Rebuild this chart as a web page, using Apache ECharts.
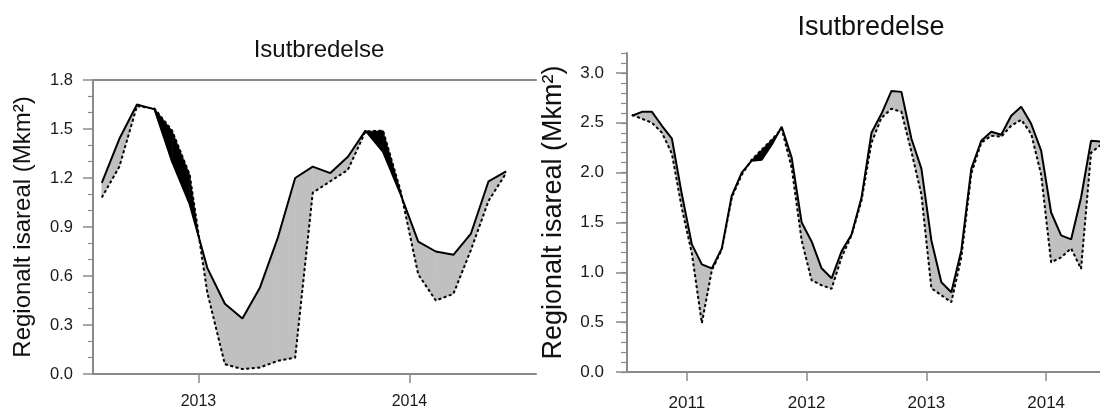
<!DOCTYPE html>
<html>
<head>
<meta charset="utf-8">
<script src="https://cdn.jsdelivr.net/npm/echarts@6/dist/echarts.min.js"></script>
<style>
  html, body { margin: 0; padding: 0; background: #fff; }
  #chart { width: 1100px; height: 409px; }
</style>
</head>
<body>
<div id="chart"></div>
<script>
// monthly means, first month of each panel
var leftStart = [2012, 7];
var rightStart = [2010, 7];

// left panel (Jul 2012 - Jun 2014)
var leftSolid = [1.17, 1.44, 1.65, 1.62, 1.30, 1.04, 0.65, 0.43, 0.34, 0.53, 0.83, 1.20,
                 1.27, 1.23, 1.33, 1.49, 1.36, 1.10, 0.81, 0.75, 0.73, 0.86, 1.18, 1.24];
var leftDotted = [1.08, 1.27, 1.64, 1.625, 1.49, 1.22, 0.50, 0.06, 0.03, 0.04, 0.08, 0.10,
                  1.11, 1.18, 1.25, 1.485, 1.49, 1.12, 0.61, 0.45, 0.49, 0.76, 1.06, 1.23];

// right panel (Jul 2010 - Jun 2014)
var rightSolid = [2.57, 2.61, 2.61, 2.47, 2.34, 1.78, 1.28, 1.08, 1.04, 1.24, 1.77, 2.00,
                  2.12, 2.13, 2.28, 2.46, 2.15, 1.50, 1.31, 1.04, 0.94, 1.21, 1.38, 1.75,
                  2.40, 2.59, 2.82, 2.81, 2.34, 2.04, 1.32, 0.90, 0.80, 1.22, 2.04, 2.32,
                  2.41, 2.38, 2.57, 2.66, 2.49, 2.22, 1.60, 1.37, 1.33, 1.75, 2.32, 2.31];
var rightDotted = [2.58, 2.54, 2.50, 2.40, 2.19, 1.64, 1.19, 0.49, 1.02, 1.23, 1.75, 1.98,
                   2.13, 2.23, 2.33, 2.44, 2.05, 1.32, 0.92, 0.87, 0.835, 1.15, 1.37, 1.72,
                   2.30, 2.55, 2.64, 2.61, 2.21, 1.78, 0.84, 0.77, 0.70, 1.15, 1.99, 2.30,
                   2.37, 2.36, 2.47, 2.53, 2.39, 1.98, 1.10, 1.15, 1.24, 1.035, 2.20, 2.28];

var leftYTicks = [0, 0.3, 0.6, 0.9, 1.2, 1.5, 1.8];
var rightYTicks = [0, 0.5, 1.0, 1.5, 2.0, 2.5, 3.0];
var leftYears = [2013, 2014];
var rightYears = [2011, 2012, 2013, 2014];

var title = "Isutbredelse";
var yName = "Regionalt isareal (Mkm²)";

var FONT = "'Liberation Sans', Arial, Helvetica, sans-serif";
var AXIS = "#8a8a8a";
var GRAY = "#c0c0c0";

function monthX(start, i) {
  return start[0] + (start[1] - 1 + i + 0.5) / 12;
}
function linePts(start, vals) {
  return vals.map(function (v, i) { return [monthX(start, i), v]; });
}
function bandData(start, s, d) {
  var out = [];
  for (var i = 0; i < s.length - 1; i++) {
    out.push([monthX(start, i), s[i], d[i], monthX(start, i + 1), s[i + 1], d[i + 1]]);
  }
  return out;
}

// fill between the two curves: grey where solid is higher, black where dotted is higher
function renderBand(params, api) {
  var x0 = api.value(0), s0 = api.value(1), d0 = api.value(2);
  var x1 = api.value(3), s1 = api.value(4), d1 = api.value(5);
  var S0 = api.coord([x0, s0]), D0 = api.coord([x0, d0]);
  var S1 = api.coord([x1, s1]), D1 = api.coord([x1, d1]);
  var g0 = s0 - d0, g1 = s1 - d1;
  function poly(pts, pos) {
    var c = pos ? GRAY : "#000";
    return { type: "polygon", shape: { points: pts }, style: { fill: c, stroke: c, lineWidth: 0.6 } };
  }
  var children = [];
  if ((g0 >= 0) === (g1 >= 0)) {
    children.push(poly([S0, S1, D1, D0], g0 + g1 >= 0));
  } else {
    var t = g0 / (g0 - g1);
    var C = [S0[0] + t * (S1[0] - S0[0]), S0[1] + t * (S1[1] - S0[1])];
    children.push(poly([S0, C, D0], g0 > 0));
    children.push(poly([C, S1, D1], g1 > 0));
  }
  return { type: "group", children: children };
}

function bottomAxis(gi, min, max, years, fs, tickLen, margin) {
  return {
    type: "value", gridIndex: gi, position: "bottom", min: min, max: max,
    axisLine: { show: true, lineStyle: { color: AXIS, width: 2 } },
    axisTick: { show: true, customValues: years, length: tickLen, lineStyle: { color: AXIS, width: 1.5 } },
    axisLabel: { show: true, customValues: years, margin: margin, color: "#1a1a1a", fontSize: fs, fontFamily: FONT,
                 formatter: function (v) { return String(Math.round(v)); } },
    splitLine: { show: false }
  };
}
function topAxis(gi, min, max) {
  return {
    type: "value", gridIndex: gi, position: "top", min: min, max: max,
    axisLine: { show: true, lineStyle: { color: AXIS, width: 2 } },
    axisTick: { show: false }, axisLabel: { show: false }, splitLine: { show: false }
  };
}

var option = {
  backgroundColor: "#fff",
  animation: false,
  title: [
    { text: title, left: 314, top: 33, textAlign: "center",
      textStyle: { fontFamily: FONT, fontSize: 24, fontWeight: "normal", color: "#111" } },
    { text: title, left: 866, top: 9, textAlign: "center",
      textStyle: { fontFamily: FONT, fontSize: 27, fontWeight: "normal", color: "#111" } }
  ],
  grid: [
    { left: 93, top: 80, width: 443, height: 294, outerBoundsMode: "none", containLabel: false },
    { left: 627, top: 53, width: 491, height: 319, outerBoundsMode: "none", containLabel: false }
  ],
  xAxis: [
    bottomAxis(0, 2012.5, 2014.6, leftYears, 16, 9, 20),
    topAxis(0, 2012.5, 2014.6),
    bottomAxis(1, 2010.5, 2014.6, rightYears, 17, 9, 23),
    topAxis(1, 2010.5, 2014.6)
  ],
  yAxis: [
    {
      type: "value", gridIndex: 0, min: 0, max: 1.8, interval: 0.3,
      name: yName, nameLocation: "middle", nameGap: 58, nameRotate: 90,
      nameTextStyle: { fontFamily: FONT, fontSize: 24, color: "#111" },
      axisLine: { show: true, lineStyle: { color: AXIS, width: 2 } },
      axisTick: { show: true, length: 10, lineStyle: { color: AXIS, width: 1.5 } },
      minorTick: { show: true, splitNumber: 3, length: 5, lineStyle: { color: AXIS, width: 1.2 } },
      axisLabel: { margin: 20, color: "#1a1a1a", fontSize: 16.5, fontFamily: FONT,
                   customValues: leftYTicks,
                   formatter: function (v) { return v.toFixed(1); } },
      splitLine: { show: false }, minorSplitLine: { show: false }
    },
    {
      // minor ticks of the right panel, every 0.1
      type: "value", gridIndex: 1, min: 0, max: 3.2, interval: 0.1,
      axisLine: { show: true, lineStyle: { color: AXIS, width: 2 } },
      axisTick: { show: true, length: 6, lineStyle: { color: AXIS, width: 1.2 } },
      axisLabel: { show: false }, splitLine: { show: false }
    },
    {
      type: "value", gridIndex: 1, min: 0, max: 3.2, position: "left",
      name: yName, nameLocation: "middle", nameGap: 60, nameRotate: 90,
      nameTextStyle: { fontFamily: FONT, fontSize: 27, color: "#111" },
      axisLine: { show: false },
      axisTick: { show: true, customValues: rightYTicks, length: 11, lineStyle: { color: AXIS, width: 1.5 } },
      axisLabel: { margin: 23, color: "#1a1a1a", fontSize: 17, fontFamily: FONT,
                   customValues: rightYTicks,
                   formatter: function (v) { return v.toFixed(1); } },
      splitLine: { show: false }
    }
  ],
  series: [
    { type: "custom", xAxisIndex: 0, yAxisIndex: 0, renderItem: renderBand,
      data: bandData(leftStart, leftSolid, leftDotted), encode: { x: [0, 3], y: [1, 2, 4, 5] }, z: 1 },
    { type: "line", xAxisIndex: 0, yAxisIndex: 0, data: linePts(leftStart, leftDotted),
      showSymbol: false, lineStyle: { color: "#000", width: 2, type: [3, 2.5] }, z: 3 },
    { type: "line", xAxisIndex: 0, yAxisIndex: 0, data: linePts(leftStart, leftSolid),
      showSymbol: false, lineStyle: { color: "#000", width: 2 }, z: 4 },

    { type: "custom", xAxisIndex: 2, yAxisIndex: 1, renderItem: renderBand,
      data: bandData(rightStart, rightSolid, rightDotted), encode: { x: [0, 3], y: [1, 2, 4, 5] }, z: 1 },
    { type: "line", xAxisIndex: 2, yAxisIndex: 1, data: linePts(rightStart, rightDotted),
      showSymbol: false, lineStyle: { color: "#000", width: 2, type: [3, 2.5] }, z: 3 },
    { type: "line", xAxisIndex: 2, yAxisIndex: 1, data: linePts(rightStart, rightSolid),
      showSymbol: false, lineStyle: { color: "#000", width: 2 }, z: 4 }
  ]
};

var chart = echarts.init(document.getElementById("chart"), null, { renderer: "canvas" });
chart.setOption(option);
</script>
</body>
</html>
